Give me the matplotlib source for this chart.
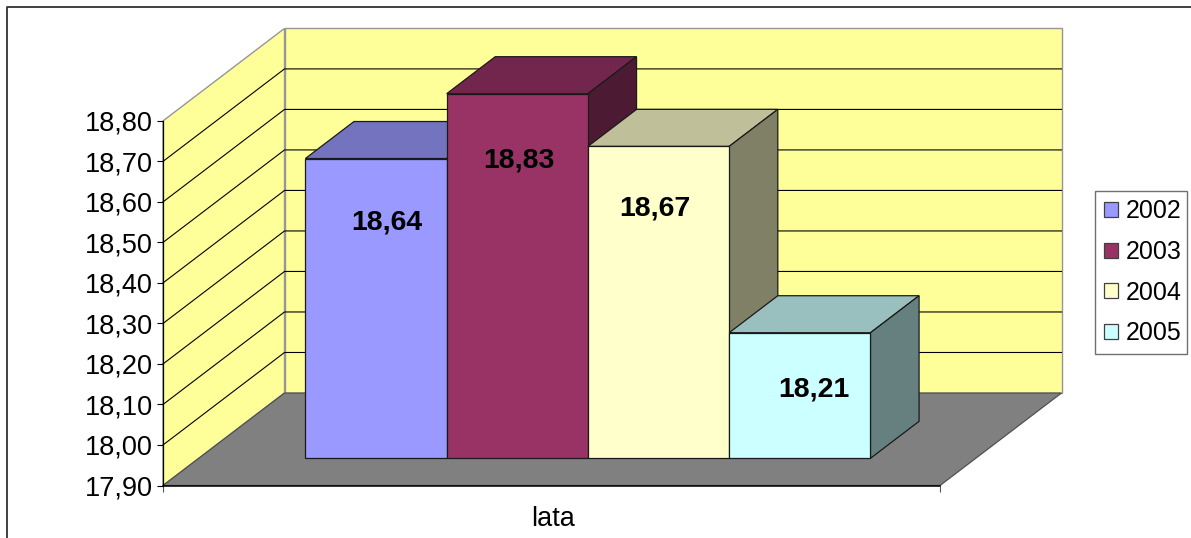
import numpy as np
import matplotlib.pyplot as plt
from matplotlib.patches import Polygon, Patch, Rectangle
from matplotlib.lines import Line2D

plt.rcParams['font.family'] = ['Liberation Sans', 'DejaVu Sans']

years = ['2002', '2003', '2004', '2005']
values = [18.64, 18.83, 18.67, 18.21]
value_labels = ['18,64', '18,83', '18,67', '18,21']
yticks = [17.9, 18.0, 18.1, 18.2, 18.3, 18.4, 18.5, 18.6, 18.7, 18.8]
ytick_labels = ['17,90', '18,00', '18,10', '18,20', '18,30', '18,40', '18,50', '18,60', '18,70', '18,80']
xlabel = 'lata'

colors = ['#9999FF', '#993366', '#FFFFCC', '#CCFFFF']
label_offsets = [(11, -64), (1.5, -67), (-3.5, -62), (14, -57)]

W, H = 1191, 538
fig = plt.figure(figsize=(W / 100, H / 100), dpi=100)

# axes is the front plane of the 3d box, pixels taken from the picture
left, right, top, bottom = 163, 940, 120.9, 485.5
ax = fig.add_axes([left / W, 1 - bottom / H, (right - left) / W, (bottom - top) / H])
ax.set_xlim(0, 5.5)
ax.set_ylim(17.9, 18.8)
ax.patch.set_visible(False)

px_x = 5.5 / (right - left)
px_y = 0.9 / (bottom - top)
dx = 121.5 * px_x
dy = 92.5 * px_y


def proj(x, v, d):
    """front plane coords + depth (0 front, 1 back wall)"""
    return (x + d * dx, v + d * dy)


def poly(pts, fc, ec='none', lw=0.75, z=1):
    ax.add_patch(Polygon(pts, closed=True, fc=fc, ec=ec, lw=lw, zorder=z, clip_on=False, joinstyle='miter'))


y0, y1 = yticks[0], yticks[-1]
wall = '#FFFF99'
# walls and floor
poly([proj(0, y0, 1), proj(5.5, y0, 1), proj(5.5, y1, 1), proj(0, y1, 1)], wall, '#969696', 1.0)
poly([proj(0, y0, 0), proj(0, y0, 1), proj(0, y1, 1), proj(0, y1, 0)], wall, '#969696', 1.0)
for v in yticks[1:-1]:
    a, b, c = proj(0, v, 0), proj(0, v, 1), proj(5.5, v, 1)
    ax.plot([a[0], b[0], c[0]], [a[1], b[1], c[1]], color='black', lw=0.8, zorder=2, clip_on=False)
poly([proj(0, y0, 0), proj(5.5, y0, 0), proj(5.5, y0, 1), proj(0, y0, 1)], '#808080', '#505050', 0.9, z=3)

# bars, left to right so the later ones sit on top
d0, d1 = 0.294, 0.694
for i, (val, col) in enumerate(zip(values, colors)):
    v = min(val, y1)  # 18,83 is cut at the axis maximum
    x0, x1 = 0.755 + i, 1.755 + i
    rgb = np.array(plt.matplotlib.colors.to_rgb(col))
    z = 4 + i
    poly([proj(x0, v, d0), proj(x1, v, d0), proj(x1, v, d1), proj(x0, v, d1)], rgb * 0.75, '#1a1a1a', 0.9, z)
    poly([proj(x1, y0, d0), proj(x1, y0, d1), proj(x1, v, d1), proj(x1, v, d0)], rgb * 0.5, '#1a1a1a', 0.9, z)
    poly([proj(x0, y0, d0), proj(x1, y0, d0), proj(x1, v, d0), proj(x0, v, d0)], rgb, '#1a1a1a', 0.9, z)
    ax.annotate(value_labels[i], xy=proj((x0 + x1) / 2, v, d0), xytext=(label_offsets[i][0] * 0.72, label_offsets[i][1] * 0.72),
                textcoords='offset points', ha='center', va='center', fontsize=20.5, fontweight='bold', zorder=20,
                annotation_clip=False)

for s in ['top', 'right']:
    ax.spines[s].set_visible(False)
ax.spines['left'].set_linewidth(0.9)
ax.spines['bottom'].set_linewidth(1.1)
ax.spines['left'].set_zorder(10)
ax.spines['bottom'].set_zorder(10)
ax.set_yticks(yticks)
ax.set_yticklabels(ytick_labels, fontsize=19.5)
ax.set_xticks([0, 5.5])
ax.set_xticklabels(['', ''])
ax.tick_params(axis='y', length=4.3, width=0.8, pad=3)
ax.tick_params(axis='x', length=4, width=0.8, color='#555555')
ax.set_xlabel(xlabel, fontsize=19.5, labelpad=7, x=0.502)

# legend frame drawn apart because the real one comes out too wide
fig.add_artist(Rectangle((1095 / W, 1 - 354.3 / H), 92 / W, 163.6 / H, transform=fig.transFigure,
                         fc='white', ec='#707070', lw=1.0))
handles = [Patch(fc=c, ec='#404040', lw=0.9) for c in colors]
leg = fig.legend(handles, years, loc='upper left', bbox_to_anchor=(1095 / W, 1 - 190.5 / H),
                 fontsize=18, frameon=False, handlelength=0.55, handleheight=0.55,
                 handletextpad=0.32, labelspacing=0.66, borderpad=0.36, borderaxespad=0)

# outer chart border, only top and left are inside the image
fig.add_artist(Line2D([6.5 / W, 6.5 / W, 1], [0, 1 - 6.5 / H, 1 - 6.5 / H], color='#333333', lw=1.3))

fig.savefig('out.png', dpi=100)
